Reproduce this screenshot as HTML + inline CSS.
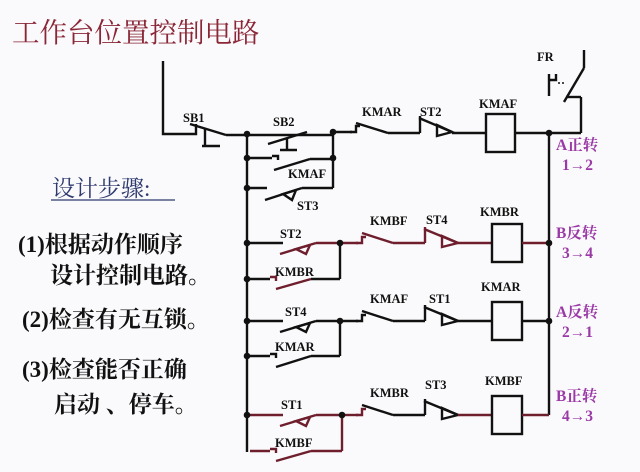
<!DOCTYPE html>
<html><head><meta charset="utf-8"><style>
html,body{margin:0;padding:0;background:#fafafc;}
svg{display:block}
.cn{font-family:"Liberation Serif","Noto Serif CJK SC",serif;}
.lb{font-family:"Liberation Serif",serif;font-weight:bold;font-size:12.5px;fill:#111;}
.pp{font-family:"Liberation Serif","Noto Serif CJK SC",serif;font-weight:bold;font-size:15.5px;fill:#9b3aa6;}
</style></head><body>
<svg width="640" height="472" viewBox="0 0 640 472" xmlns="http://www.w3.org/2000/svg">
<rect width="640" height="472" fill="#fafafc"/>
<text x="12" y="42" class="cn" font-size="27.5" fill="#8a2636">工作台位置控制电路</text>
<text x="52" y="196" class="cn" font-size="23" fill="#2e3a6e">设计步骤:</text>
<line x1="51" y1="200" x2="175" y2="200" stroke="#2e3a6e" stroke-width="1.2"/>
<g class="cn" font-size="23" fill="#111" font-weight="bold">
<text x="18" y="252">(1)根据动作顺序</text>
<text x="50" y="283">设计控制电路。</text>
<text x="22" y="327">(2)检查有无互锁。</text>
<text x="22" y="377">(3)检查能否正确</text>
<text x="54" y="412">启动 、停车。</text>
</g>
<g stroke="#111" stroke-width="2.4" fill="none">
<polyline points="163,61 163,134 196,134 196,124"/>
<line x1="190" y1="124" x2="226" y2="135"/>
<line x1="226" y1="135" x2="333" y2="135"/>
<line x1="205" y1="129" x2="205" y2="145"/><line x1="202" y1="146" x2="220" y2="146"/>
<line x1="268" y1="144" x2="307" y2="132"/>
<line x1="287" y1="138" x2="287" y2="150"/><line x1="280" y1="150" x2="297" y2="150"/>
<line x1="333" y1="132" x2="352" y2="132"/>
<path d="M350,132 h6 v-6 h4"/><line x1="356" y1="123" x2="388" y2="133"/>
<line x1="388" y1="133" x2="420" y2="133"/>
<line x1="420" y1="133" x2="420" y2="116"/><line x1="419" y1="118" x2="452" y2="132"/>
<path d="M437,125 L452,132 L437,136 Z"/>
<line x1="452" y1="133" x2="486" y2="133"/>
<rect x="486" y="114" width="29" height="38"/>
<line x1="515" y1="133" x2="581" y2="133"/>
<line x1="581" y1="133" x2="581" y2="97"/><line x1="566" y1="97" x2="581" y2="97"/>
<line x1="564" y1="102" x2="584" y2="68"/><line x1="584" y1="68" x2="584" y2="50"/>
<path d="M549,74 v22 M549,80 h7 v-6"/>
<line x1="558" y1="83" x2="566" y2="83" stroke-width="1.5" stroke-dasharray="2,2"/>
<line x1="247" y1="134" x2="247" y2="452"/>
<line x1="549" y1="133" x2="549" y2="415"/>
<line x1="247" y1="158" x2="272" y2="158"/><path d="M272,156 h6 v4"/>
<line x1="274" y1="170" x2="310" y2="159"/><line x1="310" y1="159" x2="333" y2="159"/>
<line x1="333" y1="132" x2="333" y2="188"/>
<line x1="247" y1="188" x2="267" y2="188"/><line x1="265" y1="200" x2="302" y2="188"/>
<path d="M283,194 L296,190 L292,200 Z"/><line x1="302" y1="188" x2="333" y2="188"/>
</g>
<g fill="#111">
<circle cx="247" cy="134" r="3.3"/><circle cx="333" cy="132" r="3.3"/><circle cx="549" cy="133" r="3.3"/>
<circle cx="247" cy="158" r="3.3"/><circle cx="333" cy="158" r="3.3"/><circle cx="247" cy="188" r="3.3"/>
</g>

<g stroke-width="2.4" fill="none">
<g stroke="#6e1e2c">
<line x1="247" y1="243" x2="283" y2="243" stroke="#111"/>
<line x1="280" y1="254" x2="316" y2="243"/><path d="M296,249 L310,245 L306,254 Z"/>
<line x1="316" y1="243" x2="340" y2="243"/>
<line x1="247" y1="279" x2="270" y2="279" stroke="#111"/><path d="M270,277 h6 v4"/>
<line x1="276" y1="289" x2="311" y2="279"/><line x1="311" y1="279" x2="340" y2="279" stroke="#111"/>
<line x1="340" y1="243" x2="340" y2="279" stroke="#111"/>
<line x1="340" y1="243" x2="358" y2="243"/><path d="M356,243 h6 v-6 h4"/>
<line x1="362" y1="233" x2="393" y2="243"/><line x1="393" y1="243" x2="425" y2="243"/>
<line x1="425" y1="243" x2="425" y2="227"/><line x1="424" y1="229" x2="458" y2="243"/>
<path d="M442,236 L458,243 L442,247 Z"/><line x1="458" y1="243" x2="492" y2="243"/>
<rect x="492" y="224" width="30" height="38" stroke="#111"/>
<line x1="522" y1="243" x2="549" y2="243"/>
</g>
<g stroke="#111">
<line x1="247" y1="321" x2="283" y2="321"/>
<line x1="280" y1="332" x2="316" y2="321"/><path d="M296,327 L310,323 L306,332 Z"/>
<line x1="316" y1="321" x2="340" y2="321"/>
<line x1="247" y1="356" x2="270" y2="356"/><path d="M270,354 h6 v4"/>
<line x1="276" y1="367" x2="311" y2="356"/><line x1="311" y1="356" x2="340" y2="356"/>
<line x1="340" y1="321" x2="340" y2="356"/>
<line x1="340" y1="321" x2="358" y2="321"/><path d="M356,321 h6 v-6 h4"/>
<line x1="362" y1="311" x2="393" y2="321"/><line x1="393" y1="321" x2="425" y2="321"/>
<line x1="425" y1="321" x2="425" y2="305"/><line x1="424" y1="307" x2="458" y2="321"/>
<path d="M442,314 L458,321 L442,325 Z"/><line x1="458" y1="321" x2="492" y2="321"/>
<rect x="492" y="302" width="30" height="38"/>
<line x1="522" y1="321" x2="549" y2="321"/>
</g>
<g stroke="#6e1e2c">
<line x1="247" y1="415" x2="283" y2="415"/>
<line x1="280" y1="426" x2="316" y2="415"/><path d="M296,421 L310,417 L306,426 Z"/>
<line x1="316" y1="415" x2="342" y2="415"/>
<line x1="250" y1="451" x2="270" y2="451"/><path d="M270,449 h6 v4"/>
<line x1="276" y1="461" x2="311" y2="451"/><line x1="311" y1="451" x2="342" y2="451"/>
<line x1="342" y1="415" x2="342" y2="451"/>
<line x1="342" y1="415" x2="358" y2="415"/><path d="M356,415 h6 v-6 h4"/>
<line x1="362" y1="405" x2="393" y2="415" stroke="#111"/><line x1="393" y1="415" x2="425" y2="415" stroke="#111"/>
<line x1="425" y1="415" x2="425" y2="399" stroke="#111"/><line x1="424" y1="401" x2="458" y2="415" stroke="#111"/>
<path d="M442,408 L458,415 L442,419 Z" stroke="#111"/><line x1="458" y1="415" x2="492" y2="415"/>
<rect x="492" y="396" width="30" height="38" stroke="#111"/>
<line x1="522" y1="415" x2="549" y2="415"/>
</g>
</g>
<g fill="#111">
<circle cx="247" cy="243" r="3.3"/><circle cx="340" cy="243" r="3.3"/><circle cx="549" cy="243" r="3.3"/><circle cx="247" cy="279" r="3.3"/>
<circle cx="247" cy="321" r="3.3"/><circle cx="340" cy="321" r="3.3"/><circle cx="549" cy="321" r="3.3"/><circle cx="247" cy="356" r="3.3"/>
<circle cx="247" cy="415" r="3.3"/><circle cx="342" cy="415" r="3.3"/>
</g>

<g class="lb">
<text x="183" y="122">SB1</text>
<text x="273" y="126">SB2</text>
<text x="362" y="116">KMAR</text>
<text x="420" y="116">ST2</text>
<text x="479" y="108">KMAF</text>
<text x="537" y="61">FR</text>
<text x="288" y="178">KMAF</text>
<text x="297" y="210">ST3</text>
<text x="280" y="238">ST2</text>
<text x="370" y="225">KMBF</text>
<text x="426" y="224">ST4</text>
<text x="480" y="216">KMBR</text>
<text x="275" y="276">KMBR</text>
<text x="285" y="316">ST4</text>
<text x="370" y="303">KMAF</text>
<text x="429" y="303">ST1</text>
<text x="481" y="291">KMAR</text>
<text x="275" y="351">KMAR</text>
<text x="281" y="409">ST1</text>
<text x="370" y="397">KMBR</text>
<text x="425" y="389">ST3</text>
<text x="485" y="385">KMBF</text>
<text x="275" y="447">KMBF</text>
</g>
<g class="pp">
<text x="556" y="150">A正转</text><text x="562" y="170">1→2</text>
<text x="556" y="238">B反转</text><text x="562" y="258">3→4</text>
<text x="556" y="317">A反转</text><text x="562" y="337">2→1</text>
<text x="556" y="401">B正转</text><text x="562" y="421">4→3</text>
</g>
</svg>
</body></html>
